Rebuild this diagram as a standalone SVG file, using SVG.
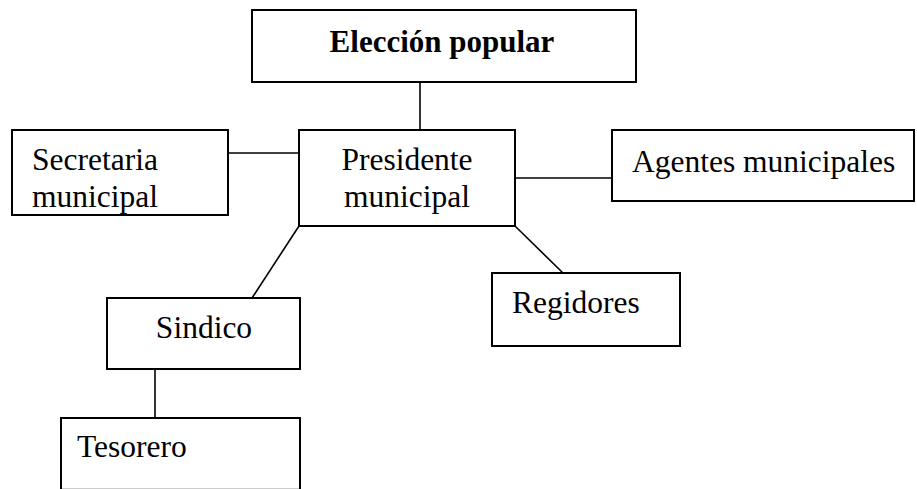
<svg xmlns="http://www.w3.org/2000/svg" width="917" height="489" viewBox="0 0 917 489">
<style>
.box{fill:#fff;stroke:#000;stroke-width:2}
.t{font-family:"Liberation Serif","Times New Roman",serif;font-size:31.5px;fill:#000}
.b{font-weight:bold;font-size:31px}
.c{fill:none;stroke:#000;stroke-width:1.6}
</style>
<rect width="917" height="489" fill="#fff"/>
<g id="connectors">
<line class="c" x1="420" y1="82" x2="420" y2="130"/>
<line class="c" x1="228" y1="153" x2="299" y2="153"/>
<line class="c" x1="515" y1="178" x2="612" y2="178"/>
<line class="c" x1="299" y1="226" x2="252" y2="298"/>
<line class="c" x1="515" y1="226" x2="563" y2="273"/>
<line class="c" x1="155" y1="369" x2="155" y2="418"/>
</g>
<g id="eleccion">
<rect class="box" x="252" y="10" width="384" height="72"/>
<text class="t b" x="442" y="52" text-anchor="middle">Elección popular</text>
</g>
<g id="presidente">
<rect class="box" x="299" y="130" width="216" height="96"/>
<text class="t" x="407" y="170" text-anchor="middle">Presidente</text>
<text class="t" x="407" y="207" text-anchor="middle">municipal</text>
</g>
<g id="secretaria">
<rect class="box" x="12" y="130" width="216" height="85"/>
<text class="t" x="32" y="170">Secretaria</text>
<text class="t" x="32" y="207">municipal</text>
</g>
<g id="agentes">
<rect class="box" x="612" y="130" width="302" height="71"/>
<text class="t" x="632" y="172">Agentes municipales</text>
</g>
<g id="regidores">
<rect class="box" x="492" y="273" width="188" height="73"/>
<text class="t" x="512" y="313">Regidores</text>
</g>
<g id="sindico">
<rect class="box" x="107" y="298" width="193" height="71"/>
<text class="t" x="204" y="338" text-anchor="middle">Sindico</text>
</g>
<g id="tesorero">
<rect class="box" x="61" y="418" width="239" height="71.8"/>
<text class="t" x="77" y="457">Tesorero</text>
</g>
</svg>
